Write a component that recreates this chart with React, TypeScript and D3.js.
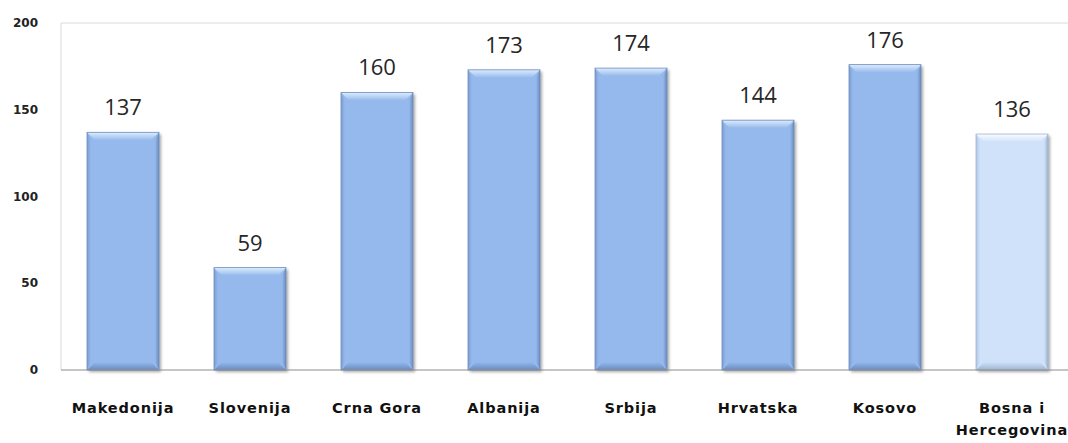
import React from "react";
import * as d3 from "d3";

const categories = ["Makedonija", "Slovenija", "Crna Gora", "Albanija", "Srbija", "Hrvatska", "Kosovo", "Bosna i|Hercegovina"];
const values = [137, 59, 160, 173, 174, 144, 176, 136];
const highlighted = [false, false, false, false, false, false, false, true];
const yTicks = [0, 50, 100, 150, 200];

const W = 1068;
const H = 443;
const plotLeft = 61;
const plotTop = 23;
const plotBottom = 370;

export default function App() {
  const x = d3.scaleBand<string>().domain(categories).range([59.5, 1075.5]).paddingInner(0.433).paddingOuter(0.2165);
  const y = d3.scaleLinear().domain([0, 200]).range([plotBottom, plotTop]);
  const bw = x.bandwidth();
  const bev = 8;

  return (
    <svg width={W} height={H} style={{ position: "absolute", left: 0, top: 0, background: "#fff" }}>
      <defs>
        <filter id="sh" x="-20%" y="-20%" width="150%" height="150%">
          <feDropShadow dx="2" dy="2" stdDeviation="1.8" floodColor="#000" floodOpacity="0.35" />
        </filter>
        {[0, 1].map((k) => {
          const base = k ? "#CFE2FA" : "#95B9EC";
          const light = k ? "#FAFDFF" : "#DDEDFC";
          const dark = k ? "#9EB4D2" : "#6A8BC0";
          const side = k ? "#B0C6E4" : "#7D9CD0";
          return (
            <React.Fragment key={k}>
              <linearGradient id={`top${k}`} x1="0" y1="0" x2="0" y2="1">
                <stop offset="0" stopColor={light} />
                <stop offset="1" stopColor={base} />
              </linearGradient>
              <linearGradient id={`bot${k}`} x1="0" y1="0" x2="0" y2="1">
                <stop offset="0" stopColor={base} />
                <stop offset="1" stopColor={dark} />
              </linearGradient>
              <linearGradient id={`left${k}`} x1="0" y1="0" x2="1" y2="0">
                <stop offset="0" stopColor={side} />
                <stop offset="1" stopColor={base} />
              </linearGradient>
              <linearGradient id={`right${k}`} x1="0" y1="0" x2="1" y2="0">
                <stop offset="0" stopColor={base} />
                <stop offset="1" stopColor={dark} />
              </linearGradient>
            </React.Fragment>
          );
        })}
      </defs>

      {/* plot border */}
      <line x1={plotLeft} x2={W} y1={plotTop} y2={plotTop} stroke="#D9D9D9" strokeWidth={1} />
      <line x1={plotLeft} x2={plotLeft} y1={plotTop} y2={plotBottom} stroke="#D9D9D9" strokeWidth={1} />

      {/* y ticks */}
      {yTicks.map((t) => (
        <text key={t} x={38} y={y(t)} dy="0.35em" textAnchor="end" fontFamily="DejaVu Sans" fontWeight="bold" fontSize={12} fill="#222">
          {t}
        </text>
      ))}

      {/* bars */}
      {categories.map((c, i) => {
        const k = highlighted[i] ? 1 : 0;
        const x0 = x(c)!;
        const x1 = x0 + bw;
        const y0 = y(values[i]);
        const y1 = y(0);
        const base = k ? "#CFE2FA" : "#95B9EC";
        return (
          <g key={c}>
            <rect x={x0} y={y0} width={bw} height={y1 - y0} fill={base} filter="url(#sh)" />
            <polygon points={`${x0},${y0} ${x1},${y0} ${x1 - bev},${y0 + bev} ${x0 + bev},${y0 + bev}`} fill={`url(#top${k})`} />
            <polygon points={`${x0},${y1} ${x1},${y1} ${x1 - bev},${y1 - bev} ${x0 + bev},${y1 - bev}`} fill={`url(#bot${k})`} />
            <polygon points={`${x0},${y0} ${x0 + bev / 2},${y0 + bev} ${x0 + bev / 2},${y1 - bev} ${x0},${y1}`} fill={`url(#left${k})`} />
            <polygon points={`${x1},${y0} ${x1 - bev / 2},${y0 + bev} ${x1 - bev / 2},${y1 - bev} ${x1},${y1}`} fill={`url(#right${k})`} />
            <rect x={x0} y={y0} width={bw} height={y1 - y0} fill="none" stroke={k ? "#9FB4D0" : "#6F8FC0"} strokeWidth={0.8} />
            <text x={x0 + bw / 2} y={y0 - 17} textAnchor="middle" fontFamily="Open Sans" fontSize={22} fill="#262626">
              {values[i]}
            </text>
          </g>
        );
      })}

      {/* x axis line */}
      <line x1={plotLeft} x2={W} y1={plotBottom} y2={plotBottom} stroke="#8C8C8C" strokeWidth={1} />

      {/* category labels */}
      {categories.map((c) => {
        const lines = c.split("|");
        return (
          <text key={c} textAnchor="middle" fontFamily="DejaVu Sans" fontWeight="bold" fontSize={14.5} letterSpacing={0.9} fill="#111">
            {lines.map((l, j) => (
              <tspan key={j} x={x(c)! + bw / 2} y={413 + j * 22}>
                {l}
              </tspan>
            ))}
          </text>
        );
      })}
    </svg>
  );
}
